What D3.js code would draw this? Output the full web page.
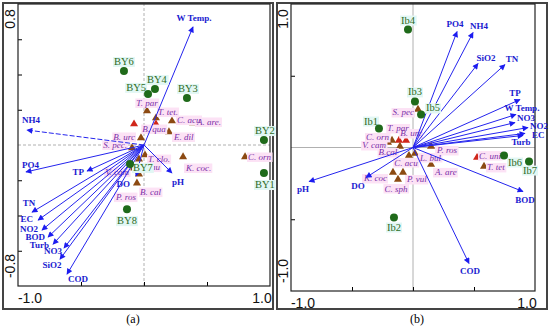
<!DOCTYPE html>
<html>
<head>
<meta charset="utf-8">
<script src="https://cdn.jsdelivr.net/npm/d3@7"></script>
<style>
  body { margin: 0; background: #fff; }
  svg { display: block; }
</style>
</head>
<body>
<div id="figure"></div>
<script>
// ---- panel (a) ----
var envA = ["W Temp.", "NH4", "PO4", "TP", "TN", "EC", "NO2", "BOD", "Turb", "NO3", "SiO2", "COD", "pH", "DO"];
var envAx = [0.389, -0.929, -0.937, -0.452, -0.889, -0.841, -0.810, -0.762, -0.722, -0.635, -0.667, -0.611, 0.222, -0.063];
var envAy = [0.670, 0.085, -0.153, -0.148, -0.381, -0.426, -0.483, -0.523, -0.563, -0.585, -0.648, -0.733, -0.159, -0.176];

var siteA = ["BY1", "BY2", "BY3", "BY4", "BY5", "BY6", "BY7", "BY8"];
var siteAx = [0.952, 0.952, 0.341, 0.087, 0.032, -0.159, -0.111, -0.135];
var siteAy = [-0.159, 0.028, 0.267, 0.318, 0.290, 0.420, -0.108, -0.364];

var sppA = ["T. par", "T. tet.", "B. qua", "C. acu", "A. are.", "E. dil", "", "B. urc", "S. pec.", "T. clo.", "E. cau", "V. cam", "P. ros", "B. cal", "K. coc.", "C. orn"];
var sppAx = [0.024, 0.095, 0.095, 0.222, 0.389, 0.198, -0.079, -0.024, -0.095, 0.008, -0.040, -0.095, -0.040, -0.056, 0.310, 0.802];
var sppAy = [0.193, 0.153, 0.119, 0.136, 0.125, 0.074, 0.119, 0.040, -0.017, -0.057, -0.080, -0.131, -0.165, -0.216, -0.068, -0.068];

// ---- panel (b) ----
var envB = ["PO4", "NH4", "SiO2", "TN", "TP", "W Temp.", "NO3", "NO2", "EC", "Turb", "BOD", "COD", "pH", "DO"];
var envBx = [0.361, 0.492, 0.533, 0.754, 0.877, 0.844, 0.836, 0.943, 0.918, 0.902, 0.902, 0.459, -0.852, -0.385];
var envBy = [0.808, 0.801, 0.585, 0.578, 0.334, 0.230, 0.174, 0.139, 0.098, 0.084, -0.307, -0.808, -0.237, -0.209];

var siteB = ["Ib1", "Ib2", "Ib3", "Ib4", "Ib5", "Ib6", "Ib7"];
var siteBx = [-0.279, -0.156, 0.016, -0.041, 0.066, 0.746, 0.951];
var siteBy = [0.132, -0.488, 0.321, 0.822, 0.230, -0.056, -0.098];

var sppB = ["S. pec", "T. par", "B. urc", "C. orn", "V. cam", "B.cal", "C. acu", "L. bul", "K. coc", "P. vul", "C. sph", "P. ros", "A. are", "C. uni", "T. tet"];
var sppBx = [0.041, -0.115, -0.057, -0.172, -0.205, -0.107, -0.033, 0.016, -0.164, -0.082, -0.123, 0.148, 0.148, 0.525, 0.582];
var sppBy = [0.265, 0.049, 0.049, 0.049, 0.035, 0.007, -0.056, -0.042, -0.174, -0.174, -0.223, 0.007, -0.118, -0.070, -0.132];

// label placement (pixels from the point): [dx, dy, anchor]
var envPosA = {
    "W Temp.": [1, -6, "middle"], "NH4": [-5, -7, "start"], "PO4": [-4, -4, "start"],
    "TP": [-3, 4, "end"], "TN": [-3, -6, "middle"], "EC": [-5, 2, "end"],
    "NO2": [-4, 2, "end"], "BOD": [-3, 3, "end"], "Turb": [-4, 4, "end"],
    "NO3": [-2, 6, "end"], "SiO2": [-8, 9, "middle"], "COD": [1, 8, "start"],
    "pH": [0, 12, "start"], "DO": [-6, 11, "end"]
};
var sitePosA = {
    "BY1": [1, 15, "middle"], "BY2": [1, -6, "middle"], "BY3": [1, -6, "middle"],
    "BY4": [2, -6, "middle"], "BY5": [-2, -3, "end"], "BY6": [0, -6, "middle"],
    "BY7": [3, 7, "start"], "BY8": [0, 15, "middle"]
};
var sppPosA = {
    "T. par": [0, -5, "middle"], "T. tet.": [2, -3, "start"], "B. qua": [-2, 8, "middle"],
    "C. acu": [5, 2, "start"], "A. are.": [4, 2, "start"], "E. dil": [5, 8, "start"],
    "B. urc": [-6, 2, "end"], "S. pec.": [-5, 0, "end"], "T. clo.": [3, 7, "start"],
    "E. cau": [-2, 11, "start"], "V. cam": [-3, 7, "end"], "P. ros": [-13, 26, "middle"],
    "B. cal": [3, 12, "start"], "K. coc.": [3, 14, "start"], "C. orn": [3, 3, "start"]
};
var redA = ["B. qua", ""];

var envPosB = {
    "PO4": [-2, -5, "middle"], "NH4": [6, -4, "middle"], "SiO2": [8, -3, "middle"],
    "TN": [7, -3, "middle"], "TP": [-5, -4, "middle"], "W Temp.": [6, -3, "middle"],
    "NO3": [2, -2, "start"], "NO2": [2, 1, "start"], "EC": [7, 5, "start"],
    "Turb": [-2, 10, "middle"], "BOD": [2, 11, "middle"], "COD": [1, 11, "middle"],
    "pH": [-6, 10, "middle"], "DO": [-8, 12, "middle"]
};
var sitePosB = {
    "Ib1": [-8, -4, "middle"], "Ib2": [0, 13, "middle"], "Ib3": [0, -6, "middle"],
    "Ib4": [0, -6, "middle"], "Ib5": [5, -3, "start"], "Ib6": [4, 10, "start"],
    "Ib7": [1, 12, "middle"]
};
var sppPosB = {
    "S. pec": [-4, 6, "end"], "T. par": [-1, -9, "middle"], "B. urc": [5, -4, "middle"],
    "C. orn": [-3, 0, "end"], "V. cam": [-2, 6, "end"], "B.cal": [-12, 9, "middle"],
    "C. acu": [-3, 10, "middle"], "L. bul": [5, 7, "start"], "K. coc": [-6, 9, "end"],
    "P. vul": [4, 10, "start"], "C. sph": [-2, 12, "middle"], "P. ros": [6, 7, "start"],
    "A. are": [4, 11, "start"], "C. uni": [2, 1, "start"], "T. tet": [3, 4, "start"]
};
var redB = ["T. par", "B. urc", "C. uni"];

var svg = d3.select("#figure")
    .append("svg")
    .attr("width", 550)
    .attr("height", 330);

svg.append("defs").append("marker")
    .attr("id", "head")
    .attr("viewBox", "0 0 10 10")
    .attr("refX", 9)
    .attr("refY", 5)
    .attr("markerWidth", 7)
    .attr("markerHeight", 6)
    .attr("markerUnits", "userSpaceOnUse")
    .attr("orient", "auto")
    .append("path")
    .attr("d", "M0,0 L10,5 L0,10 Z")
    .attr("fill", "#1c1cf0");

// outer panel frames
svg.append("rect").attr("x", 3).attr("y", 3).attr("width", 270).attr("height", 306)
    .attr("fill", "none").attr("stroke", "#444").attr("stroke-width", 2);
svg.append("rect").attr("x", 277).attr("y", 3).attr("width", 270).attr("height", 306)
    .attr("fill", "none").attr("stroke", "#444").attr("stroke-width", 2);

function zip(names, xs, ys) {
    return names.map((n, i) => ({ name: n, x: xs[i], y: ys[i] }));
}

function drawPanel(p) {
    var x = d3.scaleLinear().domain([-1, 1]).range(p.xr);
    var y = d3.scaleLinear().domain(p.yd).range(p.yr);
    var g = svg.append("g");

    // zero lines
    g.append("line").attr("x1", x(-1)).attr("x2", x(1)).attr("y1", y(0)).attr("y2", y(0))
        .attr("stroke", "#b0b0b0").attr("stroke-dasharray", p.dash);
    g.append("line").attr("x1", x(0)).attr("x2", x(0)).attr("y1", y(p.yd[0])).attr("y2", y(p.yd[1]))
        .attr("stroke", "#b0b0b0").attr("stroke-dasharray", p.dash);

    // ticks, inward
    g.append("g").attr("transform", `translate(${x(-1)},0)`)
        .call(d3.axisLeft(y).tickValues(p.yticks).tickSize(-4).tickFormat(""))
        .call(a => a.select(".domain").remove());
    g.append("g").attr("transform", `translate(0,${y(p.yd[0])})`)
        .call(d3.axisBottom(x).tickValues([-0.5, 0, 0.5]).tickSize(-4).tickFormat(""))
        .call(a => a.select(".domain").remove());

    g.append("rect")
        .attr("x", x(-1)).attr("y", y(p.yd[1]))
        .attr("width", x(1) - x(-1)).attr("height", y(p.yd[0]) - y(p.yd[1]))
        .attr("fill", "none").attr("stroke", "#222").attr("stroke-width", 1.2);

    // axis end labels
    var lab = g.append("g").attr("font-family", "Arial, 'Liberation Sans', sans-serif")
        .attr("font-size", 14).attr("fill", "#111");
    lab.append("text").attr("transform", `translate(${p.ylabX},${y(p.yd[1]) + 15}) rotate(-90)`)
        .attr("text-anchor", "middle").attr("dy", "0.35em").text(p.ytop);
    lab.append("text").attr("transform", `translate(${p.ylabX},${y(p.yd[0]) - 20}) rotate(-90)`)
        .attr("text-anchor", "middle").attr("dy", "0.35em").text(p.ybot);
    lab.append("text").attr("x", x(-1) + 12).attr("y", y(p.yd[0]) + 17)
        .attr("text-anchor", "middle").text("-1.0");
    lab.append("text").attr("x", x(1) - 8).attr("y", y(p.yd[0]) + 17)
        .attr("text-anchor", "middle").text("1.0");

    svg.append("text").attr("x", p.tagX).attr("y", 323)
        .attr("text-anchor", "middle")
        .attr("font-family", "'Liberation Serif', 'Times New Roman', serif")
        .attr("font-size", 12).text(p.tag);

    var serif = "'Liberation Serif', 'Times New Roman', serif";

    // species: label backgrounds, triangles, labels
    var spp = p.spp;
    var sppG = g.append("g");
    spp.forEach(d => {
        var o = p.sppPos[d.name];
        if (!o || !d.name) return;
        var t = sppG.append("text")
            .attr("x", x(d.x) + o[0]).attr("y", y(d.y) + o[1])
            .attr("text-anchor", o[2])
            .attr("font-family", serif).attr("font-style", "italic")
            .attr("font-size", 9).attr("fill", "#7a2fa8")
            .text(d.name);
        var b = t.node().getBBox();
        sppG.insert("rect", "text")
            .attr("x", b.x - 1).attr("y", b.y + 0.5).attr("width", b.width + 2).attr("height", b.height - 0.5)
            .attr("fill", "#fce2f5");
    });
    g.selectAll(".tri").data(spp).join("path")
        .attr("class", "tri")
        .attr("d", d3.symbol().type(d3.symbolTriangle).size(28))
        .attr("transform", d => `translate(${x(d.x)},${y(d.y)})`)
        .attr("fill", d => p.red.includes(d.name) ? "#d0261a" : "#8c4a12");
    sppG.raise();
    sppG.selectAll("rect").lower();

    // env arrows
    g.selectAll(".arr").data(p.env).join("line")
        .attr("class", "arr")
        .attr("x1", x(0)).attr("y1", y(0))
        .attr("x2", d => x(d.x)).attr("y2", d => y(d.y))
        .attr("stroke", "#2424ee").attr("stroke-width", 1)
        .attr("stroke-dasharray", d => p.dashed.includes(d.name) ? "5,2" : null)
        .attr("marker-end", "url(#head)");
    g.selectAll(".envlab").data(p.env).join("text")
        .attr("class", "envlab")
        .attr("x", d => x(d.x) + p.envPos[d.name][0])
        .attr("y", d => y(d.y) + p.envPos[d.name][1])
        .attr("text-anchor", d => p.envPos[d.name][2])
        .attr("font-family", serif).attr("font-weight", "bold")
        .attr("font-size", 9).attr("fill", "#1a1ad0")
        .text(d => d.name);

    // sites
    var siteG = g.append("g");
    p.site.forEach(d => {
        var o = p.sitePos[d.name];
        var t = siteG.append("text")
            .attr("x", x(d.x) + o[0]).attr("y", y(d.y) + o[1])
            .attr("text-anchor", o[2])
            .attr("font-family", serif).attr("font-size", 10.5).attr("fill", "#2e6b1e")
            .text(d.name);
        var b = t.node().getBBox();
        siteG.insert("rect", "text")
            .attr("x", b.x - 1).attr("y", b.y + 1).attr("width", b.width + 2).attr("height", b.height - 1)
            .attr("fill", "#e2f7f4");
    });
    siteG.selectAll("rect").lower();
    g.selectAll(".site").data(p.site).join("circle")
        .attr("class", "site")
        .attr("cx", d => x(d.x)).attr("cy", d => y(d.y))
        .attr("r", 4).attr("fill", "#1f6a1a");
}

drawPanel({
    xr: [18, 270], yd: [-0.8, 0.8], yr: [286, 4],
    yticks: [-0.6, -0.4, -0.2, 0.2, 0.4, 0.6],
    ytop: "0.8", ybot: "-0.8", ylabX: 10, tag: "(a)", tagX: 133, dash: "3,2",
    env: zip(envA, envAx, envAy), site: zip(siteA, siteAx, siteAy), spp: zip(sppA, sppAx, sppAy),
    envPos: envPosA, sitePos: sitePosA, sppPos: sppPosA, red: redA, dashed: ["NH4"]
});

drawPanel({
    xr: [291, 535], yd: [-1, 1], yr: [291, 4],
    yticks: [-0.5, 0.5],
    ytop: "1.0", ybot: "-1.0", ylabX: 283, tag: "(b)", tagX: 417, dash: null,
    env: zip(envB, envBx, envBy), site: zip(siteB, siteBx, siteBy), spp: zip(sppB, sppBx, sppBy),
    envPos: envPosB, sitePos: sitePosB, sppPos: sppPosB, red: redB, dashed: []
});
</script>
</body>
</html>
